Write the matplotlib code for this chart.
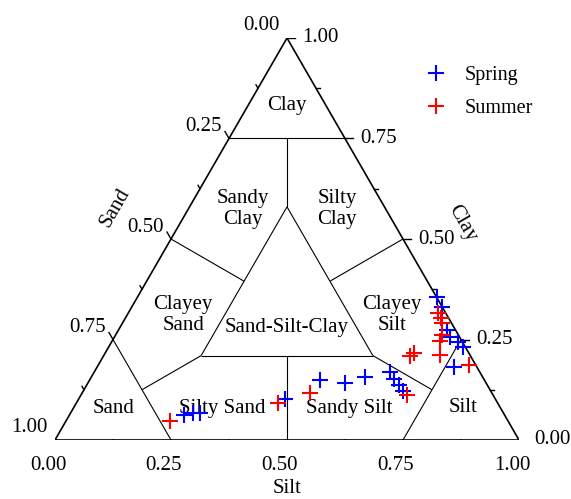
#!/usr/bin/env python3
"""
Shepard ternary diagram (sand / silt / clay) for spring and summer sediment samples.

Output:
    out.png
"""

import matplotlib
matplotlib.use("Agg")  # headless backend
import matplotlib.pyplot as plt
from matplotlib.lines import Line2D
import numpy as np


# ---------------------------------------------------------------------------
# Sample compositions (fractions)
# ---------------------------------------------------------------------------
SPRING_SAND = [0.691, 0.669, 0.654, 0.453, 0.354, 0.304, 0.253, 0.194, 0.193,
               0.190, 0.189, 0.000, 0.000, 0.018, 0.021, 0.009, 0.005, 0.049]
SPRING_SILT = [0.247, 0.264, 0.279, 0.445, 0.497, 0.554, 0.590, 0.637, 0.655,
               0.673, 0.689, 0.645, 0.669, 0.708, 0.723, 0.747, 0.764, 0.769]
SPRING_CLAY = [0.062, 0.067, 0.067, 0.102, 0.149, 0.142, 0.157, 0.169, 0.152,
               0.137, 0.122, 0.355, 0.331, 0.274, 0.256, 0.244, 0.231, 0.182]

SUMMER_SAND = [0.729, 0.473, 0.392, 0.185, 0.131, 0.118, 0.017, 0.017, 0.020,
               0.035, 0.047, 0.065, 0.014]
SUMMER_SILT = [0.224, 0.435, 0.491, 0.703, 0.660, 0.666, 0.667, 0.680, 0.689,
               0.704, 0.707, 0.724, 0.799]
SUMMER_CLAY = [0.047, 0.092, 0.117, 0.112, 0.209, 0.216, 0.316, 0.303, 0.291,
               0.261, 0.246, 0.211, 0.187]

SERIES_NAMES = ["Spring", "Summer"]
SERIES_COLORS = ["#0000FF", "#FF0000"]

TICK_VALUES = [0.0, 0.25, 0.5, 0.75, 1.0]
TICK_LABELS = ["0.00", "0.25", "0.50", "0.75", "1.00"]
MINOR_TICKS = [0.125, 0.375, 0.625, 0.875]

# Shepard classification: central triangle minimum fraction
CENTER_MIN = 0.21

H = np.sqrt(3) / 2
FONT = "Liberation Serif"
FS = 15


def to_xy(sand, silt, clay):
    """Ternary (sand, silt, clay) -> cartesian. Sand at bottom-left, silt bottom-right, clay top."""
    sand = np.asarray(sand, dtype=float)
    silt = np.asarray(silt, dtype=float)
    clay = np.asarray(clay, dtype=float)
    tot = sand + silt + clay
    silt, clay = silt / tot, clay / tot
    return silt + clay / 2, clay * H


def seg(ax, a, b, lw=0.8):
    x, y = to_xy(*zip(a, b))
    ax.plot(x, y, color="black", lw=lw, solid_capstyle="butt", zorder=2)


def draw_classes(ax):
    m = CENTER_MIN
    big = 1 - 2 * m
    mid = (1 - m) / 2
    # corner limits at 75 %
    seg(ax, (0.25, 0.0, 0.75), (0.0, 0.25, 0.75))
    seg(ax, (0.75, 0.25, 0.0), (0.75, 0.0, 0.25))
    seg(ax, (0.0, 0.75, 0.25), (0.25, 0.75, 0.0))
    # central triangle
    A, B, C = (big, m, m), (m, big, m), (m, m, big)
    seg(ax, A, B)
    seg(ax, B, C)
    seg(ax, C, A)
    # 1:1 dividers
    seg(ax, (0.125, 0.125, 0.75), C)
    seg(ax, (mid, mid, m), (0.5, 0.5, 0.0))
    seg(ax, (0.5, 0.0, 0.5), (mid, m, mid))
    seg(ax, B, (0.125, 0.75, 0.125))
    seg(ax, (0.0, 0.5, 0.5), (m, mid, mid))
    seg(ax, A, (0.75, 0.125, 0.125))


def draw_axes(ax):
    # triangle frame
    x, y = to_xy([1, 0, 0, 1], [0, 1, 0, 0], [0, 0, 1, 0])
    ax.plot(x, y, color="black", lw=1.2, zorder=3, solid_joinstyle="miter")

    px = 1 / 464.0  # one pixel in data units
    axes_def = {
        # name: (point func, tick direction, label offset px, ha)
        "silt": (lambda t: to_xy(1 - t, t, 0), (-0.5, -H), (-7, -26), "center"),
        "clay": (lambda t: to_xy(0, 1 - t, t), (1.0, 0.0), (15, 0), "left"),
        "sand": (lambda t: to_xy(t, 0, 1 - t), (-0.5, H), (-7, 12), "right"),
    }
    for name, (pt, (dx, dy), (ox, oy), ha) in axes_def.items():
        for t, lab in zip(TICK_VALUES, TICK_LABELS):
            x0, y0 = pt(t)
            ax.plot([x0, x0 + 8 * px * dx], [y0, y0 + 8 * px * dy],
                    color="black", lw=1.0, zorder=3)
            ax.annotate(lab, (x0, y0), xytext=(ox, oy), textcoords="offset pixels",
                        ha=ha, va="center", fontsize=FS, family=FONT)
        for t in MINOR_TICKS:
            x0, y0 = pt(t)
            ax.plot([x0, x0 + 4 * px * dx], [y0, y0 + 4 * px * dy],
                    color="black", lw=1.0, zorder=3)

    ax.text(0.5, -0.104, "Silt", ha="center", va="center", fontsize=FS, family=FONT)
    ax.text(0.13, 0.5, "Sand", ha="center", va="center", rotation=60,
            fontsize=FS, family=FONT)
    ax.text(0.877, 0.466, "Clay", ha="center", va="center", rotation=-60,
            fontsize=FS, family=FONT)


def draw_labels(ax):
    labels = [
        ("Clay", 0.5, 0.72),
        ("Sandy\nClay", 0.405, 0.498),
        ("Silty\nClay", 0.608, 0.498),
        ("Clayey\nSand", 0.276, 0.27),
        ("Sand-Silt-Clay", 0.5, 0.242),
        ("Clayey\nSilt", 0.726, 0.27),
        ("Sand", 0.127, 0.068),
        ("Silty Sand", 0.36, 0.068),
        ("Sandy Silt", 0.634, 0.068),
        ("Silt", 0.879, 0.07),
    ]
    for txt, x, y in labels:
        ax.text(x, y, txt, ha="center", va="center", fontsize=FS, family=FONT,
                linespacing=1.15, zorder=2)


def main():
    W, Hpx = 571, 499
    fig = plt.figure(figsize=(W / 100, Hpx / 100), dpi=100)
    ax = fig.add_axes([55 / W, 59 / Hpx, 464 / W, 402 / Hpx])
    ax.set_xlim(0, 1)
    ax.set_ylim(0, H)
    ax.axis("off")

    draw_classes(ax)
    draw_axes(ax)
    draw_labels(ax)

    series = [
        (SPRING_SAND, SPRING_SILT, SPRING_CLAY),
        (SUMMER_SAND, SUMMER_SILT, SUMMER_CLAY),
    ]
    handles = []
    for (sa, si, cl), name, color in zip(series, SERIES_NAMES, SERIES_COLORS):
        x, y = to_xy(sa, si, cl)
        ax.plot(x, y, ls="none", marker="+", ms=12, mew=1.5, color=color,
                clip_on=False, zorder=5)
        handles.append(Line2D([], [], ls="none", marker="+", ms=12, mew=1.5,
                              color=color, label=name))

    fig.legend(handles=handles, loc="upper left", bbox_to_anchor=(426 / W, 1 - 66 / Hpx),
               frameon=False, borderpad=0, borderaxespad=0, handlelength=1.0,
               handletextpad=0.9, labelspacing=0.68,
               prop={"family": FONT, "size": FS - 0.5})

    fig.savefig("out.png", dpi=100)
    plt.close(fig)


if __name__ == "__main__":
    main()
